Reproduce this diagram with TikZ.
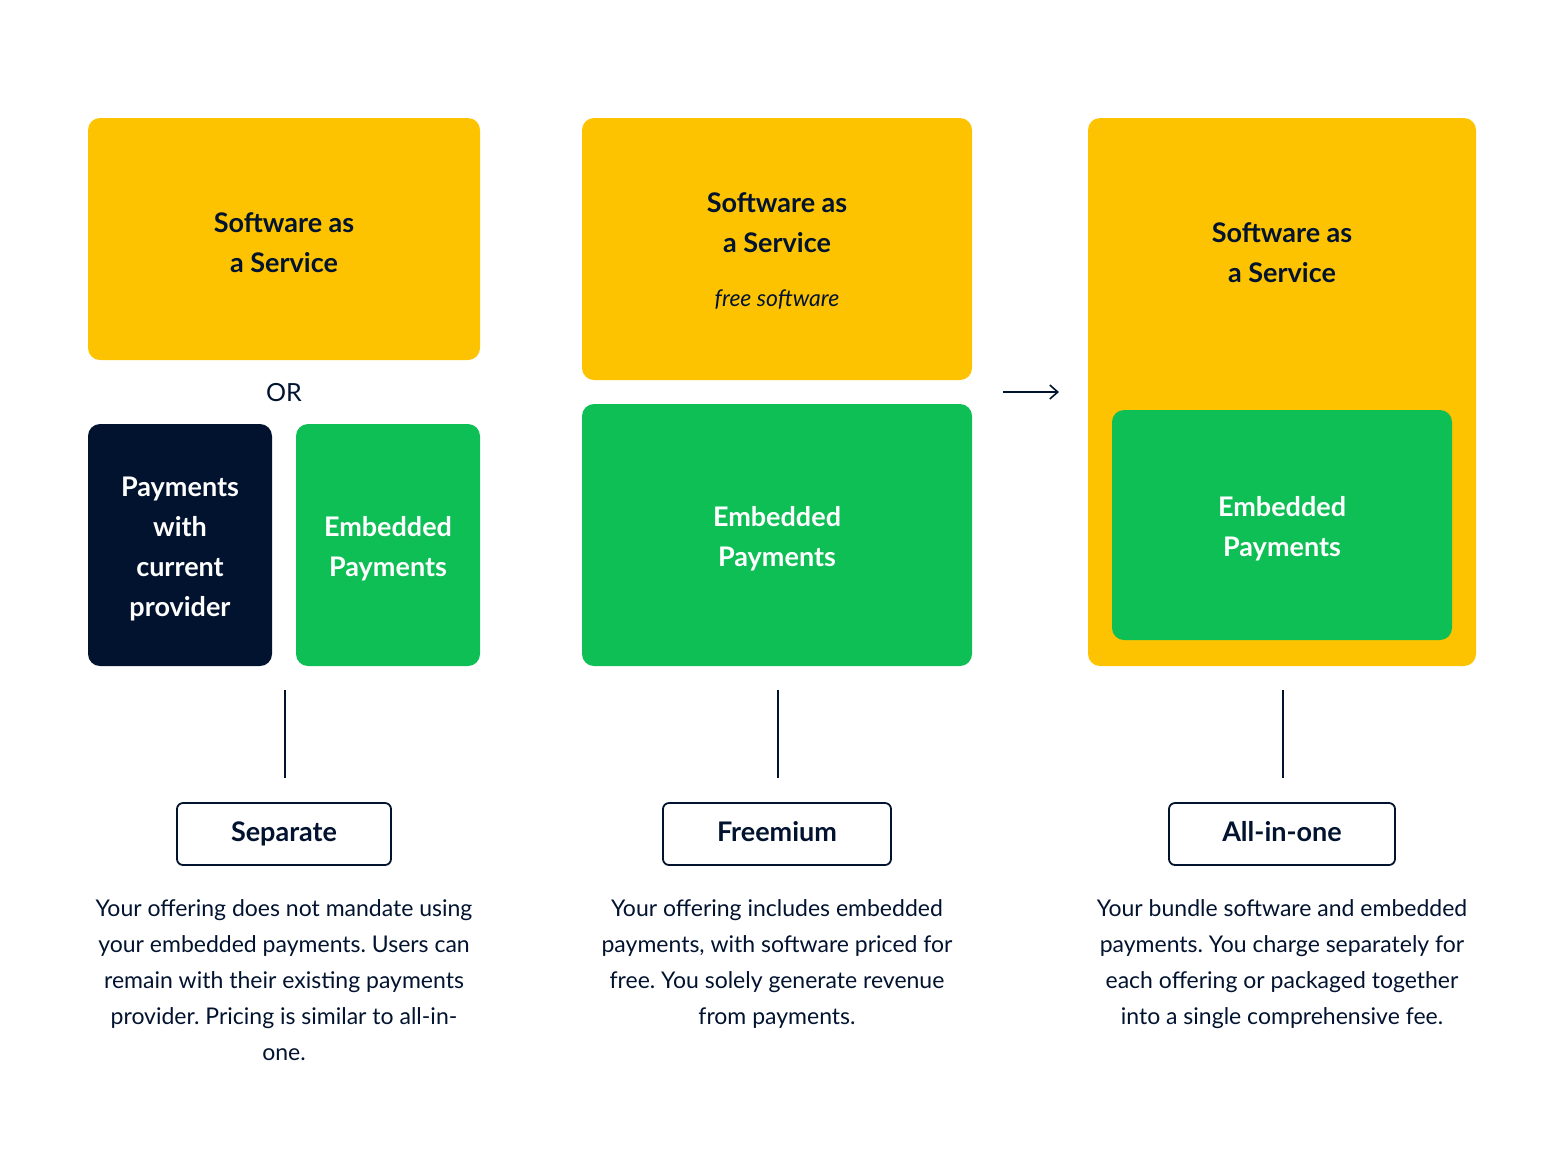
\documentclass[tikz,border=0pt]{standalone}
\usepackage{fontspec}
\setmainfont{Lato}
\frenchspacing
\usetikzlibrary{arrows.meta}
\definecolor{ylw}{HTML}{FDC300}
\definecolor{grn}{HTML}{0DBF55}
\definecolor{drk}{HTML}{021330}
\tikzset{x=0.5pt,y=-0.5pt,
 box/.style={rounded corners=6pt,inner sep=0pt},
 ttl/.style={font=\fontsize{13.5}{20}\selectfont\bfseries,align=center,text=drk},
 wttl/.style={font=\fontsize{13.5}{20}\selectfont\bfseries,align=center,text=white},
 lbl/.style={draw=drk,line width=0.9pt,rounded corners=3pt,fill=white,font=\fontsize{13.5}{16}\selectfont\bfseries,text=drk,minimum height=31pt,text height=10pt,text depth=3pt},
 desc/.style={font=\fontsize{11.5}{18}\selectfont,align=center,text=drk},
 conn/.style={draw=drk,line width=0.8pt}}
\begin{document}
\begin{tikzpicture}
\useasboundingbox (0,0) rectangle (1568,1148);
% column 1
\fill[ylw,box] (88,118) rectangle (480,360);
\node[ttl] (s1) at (284,243) {Software as\\a Service};
\node[font=\fontsize{12.5}{15}\selectfont,text=drk] (or) at (284,393) {OR};
\fill[drk,box] (88,424) rectangle (272,666);
\node[wttl] (p1) at (180,549) {Payments\\with\\current\\provider};
\fill[grn,box] (296,424) rectangle (480,666);
\node[wttl] (e1) at (388,549) {Embedded\\Payments};
% column 2
\fill[ylw,box] (582,118) rectangle (972,380);
\node[ttl] (s2) at (777,223) {Software as\\a Service};
\node[font=\fontsize{11.5}{14}\selectfont\itshape,text=drk] (fs) at (777,300) {free software};
\fill[grn,box] (582,404) rectangle (972,666);
\node[wttl] (e2) at (777,539) {Embedded\\Payments};
% arrow
\coordinate (a1) at (1003,392); \coordinate (a2) at (1059,392);
\draw[conn,-{Straight Barb[length=4pt,width=7pt]}] (a1) -- (a2);
% column 3
\fill[ylw,box] (1088,118) rectangle (1476,666);
\node[ttl] (s3) at (1282,253) {Software as\\a Service};
\fill[grn,box] (1112,410) rectangle (1452,640);
\node[wttl] (e3) at (1282,529) {Embedded\\Payments};
% connectors and labels
\node[lbl,minimum width=107pt] (l1) at (284,834) {Separate};
\node[lbl,minimum width=114pt] (l2) at (777,834) {Freemium};
\node[lbl,minimum width=113pt] (l3) at (1282,834) {All-in-one};
\coordinate (t1) at (285,690); \coordinate (b1) at (285,778);
\coordinate (t2) at (778,690); \coordinate (b2) at (778,778);
\coordinate (t3) at (1283,690); \coordinate (b3) at (1283,778);
\draw[conn] (t1) -- (b1);
\draw[conn] (t2) -- (b2);
\draw[conn] (t3) -- (b3);
\node[desc,anchor=north] (d1) at (284,892) {Your offering does not mandate using\\your embedded payments. Users can\\remain with their existing payments\\provider. Pricing is similar to all-in-\\one.};
\node[desc,anchor=north] (d2) at (777,892) {Your offering includes embedded\\payments, with software priced for\\free. You solely generate revenue\\from payments.};
\node[desc,anchor=north] (d3) at (1282,892) {Your bundle software and embedded\\payments. You charge separately for\\each offering or packaged together\\into a single comprehensive fee.};
\end{tikzpicture}
\end{document}
